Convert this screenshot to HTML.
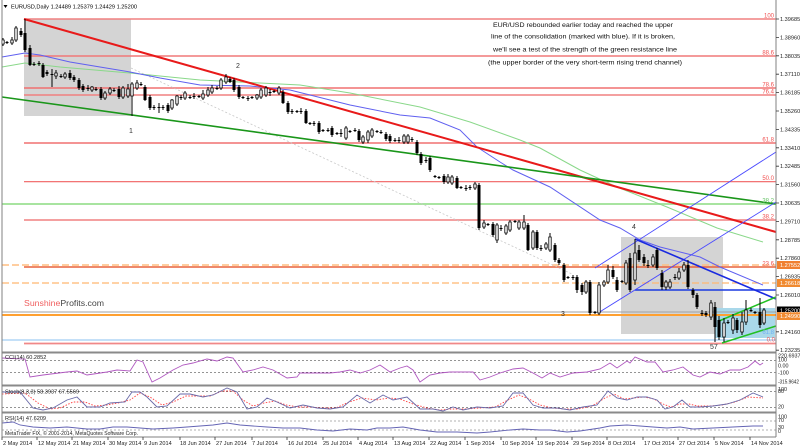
<!DOCTYPE html>
<html><head><meta charset="utf-8"><style>
html,body{margin:0;padding:0;background:#fff;}
svg{display:block;font-family:"Liberation Sans",Arial,sans-serif;}
</style></head><body>
<svg width="800" height="447" viewBox="0 0 800 447" xmlns="http://www.w3.org/2000/svg">
<rect width="800" height="447" fill="#fff"/>
<!-- boxes -->
<rect x="24" y="19" width="107" height="97" fill="#d4d4d4"/>
<rect x="621" y="237" width="102" height="97" fill="#d4d4d4"/>
<rect x="715" y="308" width="60" height="30" fill="#a9d8ea"/>
<!-- horizontal lines -->
<g fill="none">
<line x1="24" y1="19" x2="776" y2="19" stroke="#f08080" stroke-width="1.6"/>
<line x1="24" y1="56" x2="776" y2="56" stroke="#f07878" stroke-width="1.6"/>
<line x1="24" y1="88" x2="776" y2="88" stroke="#f07070" stroke-width="1.6"/>
<line x1="24" y1="95" x2="776" y2="95" stroke="#f08080" stroke-width="1.6"/>
<line x1="24" y1="143" x2="776" y2="143" stroke="#f07070" stroke-width="1.4"/>
<line x1="24" y1="181.7" x2="776" y2="181.7" stroke="#f06060" stroke-width="1.2"/>
<line x1="2" y1="204" x2="776" y2="204" stroke="#a8e4a0" stroke-width="2"/>
<line x1="24" y1="220" x2="776" y2="220" stroke="#f4a0a0" stroke-width="2"/>
<line x1="2" y1="265" x2="776" y2="265" stroke="#ffbe80" stroke-width="1.5" stroke-dasharray="7 3"/>
<line x1="24" y1="267" x2="776" y2="267" stroke="#e8603a" stroke-width="1.5"/>
<line x1="2" y1="283" x2="776" y2="283" stroke="#ffb870" stroke-width="1.2" stroke-dasharray="7 3"/>
<line x1="2" y1="312" x2="776" y2="312" stroke="#a0a0a0" stroke-width="1"/>
<line x1="2" y1="315" x2="776" y2="315" stroke="#ffa030" stroke-width="2"/>
<line x1="2" y1="340" x2="776" y2="340" stroke="#88c0f0" stroke-width="1"/>
<line x1="24" y1="343.5" x2="776" y2="343.5" stroke="#f08888" stroke-width="1.8"/>
<line x1="635" y1="290" x2="776" y2="290" stroke="#1a3ae0" stroke-width="1.5"/>
</g>
<!-- dotted projection -->
<line x1="131" y1="68" x2="572" y2="274" stroke="#c8c8c8" stroke-width="0.8" stroke-dasharray="2 2"/>
<!-- MAs -->
<polyline fill="none" stroke="#8ad88a" stroke-width="1" points="2,67 25,63 60,67 130,73 200,80 260,83 300,85 350,93 420,107 470,122 520,140 540,148 580,170 617,187 667,207 717,228 763,242"/>
<polyline fill="none" stroke="#6060f0" stroke-width="1" points="2,57 25,53 40,55 70,62 100,67 130,72 160,78 200,85 250,86 290,90 350,105 400,115 430,118 460,130 477,147 500,162 513,170 550,187 600,220 620,228 640,240 660,247 700,257 720,267 763,285"/>
<!-- trend lines -->
<line x1="24" y1="19" x2="776" y2="232" stroke="#e81a1a" stroke-width="2"/>
<line x1="2" y1="97" x2="776" y2="204" stroke="#1a961a" stroke-width="1.6"/>
<line x1="595" y1="268" x2="776" y2="152" stroke="#4a4aff" stroke-width="0.9"/>
<line x1="598" y1="313" x2="776" y2="202" stroke="#4a4aff" stroke-width="0.9"/>
<line x1="635" y1="239" x2="776" y2="299" stroke="#1a2ae0" stroke-width="1.6"/>
<line x1="719" y1="321" x2="776" y2="297" stroke="#22c022" stroke-width="1.5"/>
<line x1="722" y1="343" x2="776" y2="326" stroke="#22c022" stroke-width="1.5"/>
<!-- candles -->
<path fill="none" stroke="#000" stroke-width="1" d="M3 38V46M7 41V44M12 37V45M16 26V42M21 28V37M25 19V52M30 45V66M34 62V66M39 61V66M43 63V78M47 70V76M52 69V87M56 70V79M61 74V78M65 72V79M70 70V80M74 75V82M79 78V90M83 84V92M88 85V91M92 86V92M96 87V91M101 87V100M105 91V100M110 87V95M114 88V92M119 86V99M123 86V99M128 84V98M132 82V116M137 80V90M141 82V86M145 85V101M150 95V110M154 105V110M159 103V113M163 105V110M168 103V113M172 99V110M177 95V106M181 95V100M185 91V100M190 95V99M194 93V99M199 95V98M203 90V100M208 87V97M212 85V94M217 86V90M221 78V90M226 74V84M230 77V83M234 78V92M239 85V99M243 96V99M248 96V101M252 96V99M257 94V100M261 88V99M266 86V97M270 89V96M274 90V93M279 86V95M283 90V104M288 101V114M292 109V114M297 110V113M301 108V114M306 109V124M310 122V125M314 121V126M319 121V134M323 129V132M328 128V132M332 126V137M337 132V135M341 129V137M346 126V140M350 130V133M355 128V132M359 129V142M363 135V144M368 130V143M372 128V138M377 130V133M381 130V134M386 132V141M390 134V143M395 138V142M399 137V143M404 134V144M408 134V144M412 137V142M417 140V155M421 152V165M426 157V163M430 156V172M435 175V178M439 176V179M444 174V184M448 174V184M452 175V185M457 176V189M461 186V189M466 185V191M470 185V190M475 182V190M479 183V230M484 220V229M488 223V226M493 222V237M497 223V243M501 225V231M506 224V235M510 220V232M515 220V223M519 220V230M524 215V230M528 223V251M533 230V250M537 230V250M541 245V251M546 242V250M550 233V252M555 243V262M559 258V265M564 263V282M568 276V279M573 275V280M577 275V293M582 283V295M586 280V294M590 280V315M595 311V314M599 282V315M604 280V287M608 265V284M613 266V279M617 277V292M622 280V283M626 260V285M630 253V292M635 239V285M639 245V262M644 254V266M648 260V268M653 254V267M657 248V270M662 270V290M666 280V290M670 279V289M675 274V280M679 268V280M684 262V272M688 260V289M693 288V298M697 293V309M702 310V316M706 311V317M711 300V320M715 302V342M719 316V340M724 318V342M728 320V324M733 314V334M737 318V333M742 312V335M746 300V325M751 308V312M755 311V314M760 298V328M764 308V325"/>
<path fill="#000" d="M5.5 42h3V43h-3ZM19.5 31h3V35h-3ZM23.5 33h3V50h-3ZM28.5 48h3V65h-3ZM32.5 64h3V65h-3ZM37.5 63h3V64h-3ZM41.5 65h3V77h-3ZM45.5 72h3V74h-3ZM50.5 74h3V75h-3ZM59.5 76h3V77h-3ZM68.5 73h3V78h-3ZM72.5 77h3V80h-3ZM77.5 80h3V88h-3ZM81.5 86h3V90h-3ZM86.5 88h3V89h-3ZM94.5 89h3V90h-3ZM99.5 89h3V98h-3ZM112.5 90h3V91h-3ZM117.5 89h3V97h-3ZM139.5 84h3V85h-3ZM143.5 87h3V100h-3ZM148.5 97h3V108h-3ZM152.5 107h3V108h-3ZM157.5 107h3V108h-3ZM161.5 107h3V108h-3ZM166.5 105h3V111h-3ZM179.5 97h3V98h-3ZM188.5 97h3V98h-3ZM192.5 96h3V97h-3ZM197.5 96h3V97h-3ZM215.5 88h3V89h-3ZM228.5 79h3V82h-3ZM232.5 80h3V90h-3ZM237.5 87h3V97h-3ZM241.5 97h3V98h-3ZM246.5 98h3V99h-3ZM250.5 97h3V98h-3ZM268.5 92h3V93h-3ZM272.5 91h3V92h-3ZM281.5 92h3V103h-3ZM286.5 103h3V112h-3ZM290.5 111h3V112h-3ZM295.5 111h3V112h-3ZM299.5 111h3V112h-3ZM304.5 111h3V123h-3ZM308.5 123h3V124h-3ZM312.5 123h3V124h-3ZM317.5 123h3V132h-3ZM321.5 130h3V131h-3ZM326.5 130h3V131h-3ZM330.5 128h3V135h-3ZM335.5 133h3V134h-3ZM339.5 133h3V134h-3ZM348.5 131h3V132h-3ZM353.5 130h3V131h-3ZM357.5 131h3V140h-3ZM375.5 131h3V132h-3ZM379.5 132h3V133h-3ZM384.5 134h3V139h-3ZM388.5 136h3V141h-3ZM393.5 140h3V141h-3ZM397.5 140h3V141h-3ZM410.5 139h3V140h-3ZM415.5 142h3V153h-3ZM419.5 154h3V163h-3ZM424.5 160h3V161h-3ZM428.5 158h3V170h-3ZM433.5 176h3V177h-3ZM437.5 177h3V178h-3ZM442.5 176h3V182h-3ZM455.5 178h3V188h-3ZM459.5 187h3V188h-3ZM464.5 188h3V189h-3ZM468.5 187h3V188h-3ZM477.5 185h3V228h-3ZM486.5 224h3V225h-3ZM491.5 224h3V235h-3ZM499.5 228h3V229h-3ZM513.5 221h3V222h-3ZM526.5 225h3V250h-3ZM535.5 232h3V248h-3ZM539.5 248h3V249h-3ZM553.5 245h3V260h-3ZM557.5 260h3V263h-3ZM562.5 265h3V280h-3ZM566.5 277h3V278h-3ZM571.5 277h3V278h-3ZM575.5 277h3V290h-3ZM580.5 285h3V292h-3ZM588.5 282h3V313h-3ZM593.5 312h3V313h-3ZM611.5 270h3V277h-3ZM615.5 280h3V290h-3ZM620.5 281h3V282h-3ZM628.5 258h3V290h-3ZM637.5 250h3V260h-3ZM642.5 257h3V263h-3ZM646.5 265h3V266h-3ZM655.5 250h3V268h-3ZM660.5 273h3V287h-3ZM673.5 277h3V278h-3ZM686.5 265h3V287h-3ZM691.5 290h3V295h-3ZM695.5 295h3V307h-3ZM700.5 313h3V314h-3ZM704.5 313h3V315h-3ZM713.5 307h3V327h-3ZM717.5 320h3V337h-3ZM726.5 322h3V323h-3ZM735.5 320h3V330h-3ZM749.5 310h3V311h-3ZM753.5 312h3V313h-3ZM758.5 312h3V325h-3Z"/>
<path fill="#fff" stroke="#000" stroke-width="0.8" d="M1.8 40h2.4V44h-2.4ZM10.8 40h2.4V43h-2.4ZM14.8 28h2.4V40h-2.4ZM54.8 73h2.4V76h-2.4ZM63.8 74h2.4V77h-2.4ZM90.8 87h2.4V90h-2.4ZM103.8 93h2.4V98h-2.4ZM108.8 89h2.4V93h-2.4ZM121.8 88h2.4V97h-2.4ZM126.8 89h2.4V96h-2.4ZM130.8 84h2.4V96h-2.4ZM135.8 83h2.4V88h-2.4ZM170.8 100h2.4V108h-2.4ZM175.8 96h2.4V104h-2.4ZM183.8 93h2.4V98h-2.4ZM201.8 94h2.4V98h-2.4ZM206.8 90h2.4V95h-2.4ZM210.8 88h2.4V92h-2.4ZM219.8 80h2.4V88h-2.4ZM224.8 77h2.4V82h-2.4ZM255.8 95h2.4V98h-2.4ZM259.8 90h2.4V97h-2.4ZM264.8 88h2.4V95h-2.4ZM277.8 88h2.4V93h-2.4ZM344.8 128h2.4V138h-2.4ZM361.8 137h2.4V142h-2.4ZM366.8 132h2.4V140h-2.4ZM370.8 130h2.4V136h-2.4ZM402.8 136h2.4V142h-2.4ZM406.8 136h2.4V142h-2.4ZM446.8 177h2.4V182h-2.4ZM450.8 177h2.4V183h-2.4ZM473.8 184h2.4V188h-2.4ZM482.8 223h2.4V227h-2.4ZM495.8 225h2.4V240h-2.4ZM504.8 226h2.4V233h-2.4ZM508.8 222h2.4V230h-2.4ZM517.8 222h2.4V228h-2.4ZM522.8 222h2.4V228h-2.4ZM531.8 232h2.4V248h-2.4ZM544.8 244h2.4V248h-2.4ZM548.8 237h2.4V250h-2.4ZM584.8 282h2.4V292h-2.4ZM597.8 285h2.4V313h-2.4ZM602.8 282h2.4V285h-2.4ZM606.8 270h2.4V282h-2.4ZM624.8 263h2.4V283h-2.4ZM633.8 253h2.4V280h-2.4ZM651.8 257h2.4V265h-2.4ZM664.8 282h2.4V287h-2.4ZM668.8 282h2.4V287h-2.4ZM677.8 272h2.4V278h-2.4ZM682.8 265h2.4V270h-2.4ZM709.8 303h2.4V317h-2.4ZM722.8 323h2.4V337h-2.4ZM731.8 318h2.4V330h-2.4ZM740.8 322h2.4V332h-2.4ZM744.8 310h2.4V322h-2.4ZM762.8 310h2.4V323h-2.4Z"/>
<!-- fib labels -->
<g font-size="6" fill="#f05050" text-anchor="end">
<text x="774" y="17.5">100</text>
<text x="774" y="54.5">88.6</text>
<text x="774" y="86.5">78.6</text>
<text x="774" y="93.5">76.4</text>
<text x="774" y="141.5">61.8</text>
<text x="774" y="180">50.0</text>
<text x="774" y="202.5" fill="#60c060">38.2</text>
<text x="774" y="218.5">38.2</text>
<text x="774" y="265.5">23.6</text>
<text x="774" y="334" fill="#70b0f0">61.8</text>
<text x="775" y="341.5">0.0</text>
</g>
<!-- annotations -->
<g font-size="6.8" fill="#111">
<text x="493" y="27" textLength="180" lengthAdjust="spacingAndGlyphs">EUR/USD rebounded earlier today and reached the upper</text>
<text x="491" y="38.7" textLength="184" lengthAdjust="spacingAndGlyphs">line of the consolidation (marked with blue). If it is broken,</text>
<text x="493" y="51.5" textLength="184" lengthAdjust="spacingAndGlyphs">we'll see a test of the strength of the green resistance line</text>
<text x="488" y="64.5" textLength="194" lengthAdjust="spacingAndGlyphs">(the upper border of the very short-term rising trend channel)</text>
</g>
<g font-size="7" fill="#333">
<text x="129" y="133">1</text>
<text x="236" y="68">2</text>
<text x="561" y="316">3</text>
<text x="632" y="229">4</text>
<text x="710" y="349">57</text>
</g>
<text x="24" y="306" font-size="8" textLength="80" lengthAdjust="spacingAndGlyphs"><tspan fill="#f06060">Sunshine</tspan><tspan fill="#444">Profits.com</tspan></text>
<!-- title -->
<path d="M3.5 5h4l-2 3z" fill="#000"/>
<text x="11" y="8.5" font-size="5.8" fill="#000" textLength="126" lengthAdjust="spacingAndGlyphs">EURUSD,Daily  1.24489 1.25379 1.24429 1.25200</text>
<!-- panels -->
<rect x="2" y="351.5" width="774" height="2" fill="#8a8a8a"/>
<rect x="2" y="384.5" width="774" height="2" fill="#8a8a8a"/>
<rect x="2" y="411.5" width="774" height="2" fill="#8a8a8a"/>
<g stroke="#555" stroke-width="0.7" stroke-dasharray="2 2">
<line x1="2" y1="360.7" x2="776" y2="360.7"/>
<line x1="2" y1="372.3" x2="776" y2="372.3"/>
<line x1="2" y1="391.7" x2="776" y2="391.7"/>
<line x1="2" y1="407.3" x2="776" y2="407.3"/>
<line x1="2" y1="421" x2="776" y2="421" stroke="#999"/>
<line x1="2" y1="430" x2="776" y2="430" stroke="#999"/>
</g>
<polyline fill="none" stroke="#b058c0" stroke-width="0.9" points="2,358 25,359 30,377 43,375 67,372 77,371 87,375 107,372 117,370 130,371 137,360 143,362 152,382 160,378 173,370 183,365 193,363 207,359 217,361 227,357 233,358 243,372 253,370 263,367 273,370 287,378 297,377 300,373 317,373 330,373 340,372 350,370 360,373 370,370 380,365 390,372 400,368 407,366 413,370 420,382 430,375 440,373 450,372 463,372 473,372 480,380 490,377 500,373 513,369 523,368 533,373 542,378 550,373 560,377 573,373 587,372 600,369 610,363 617,368 627,361 630,363 635,357 647,362 655,362 663,372 673,370 683,367 693,375 700,377 710,372 720,374 730,370 740,370 748,367 755,361 760,365 763,363"/>
<polyline fill="none" stroke="#ff4040" stroke-width="0.9" stroke-dasharray="1.5 1.5" points="2,394 25,393 38,403 50,409 60,408 73,402 85,402 95,406 107,405 118,403 130,400 140,393 150,397 162,405 173,402 186,396 198,396 210,396 222,391 233,391 243,400 253,406 264,403 275,401 286,405 298,407 310,407 323,408 336,408 349,402 362,398 376,400 389,398 400,399 413,404 427,408 440,410 452,409 466,409 480,408 495,407 508,400 519,395 529,399 540,405 552,408 565,409 578,409 592,406 605,398 614,394 624,399 634,398 644,397 654,399 663,404 671,407 680,404 689,404 698,406 710,406 722,405 735,402 748,397 763,398"/>
<polyline fill="none" stroke="#6a6aa8" stroke-width="0.9" points="2,392 20,392 33,408 43,410 53,408 67,400 77,397 87,407 100,407 110,403 125,402 132,392 140,392 147,397 157,407 167,406 180,394 190,394 203,397 213,395 227,388 237,392 247,409 257,407 267,398 277,402 290,408 303,405 317,408 330,409 343,407 357,395 370,403 383,395 393,400 407,397 420,409 433,409 443,411 453,407 463,410 477,407 490,408 503,406 513,393 523,393 533,405 543,408 557,408 570,410 583,407 597,405 608,391 617,398 627,400 637,397 647,397 657,400 665,409 673,407 682,400 690,407 700,407 713,406 727,404 740,400 753,393 763,397"/>
<polyline fill="none" stroke="#6464b4" stroke-width="0.9" points="2,423 13,422 20,425 33,427 50,428 67,427 87,429 100,429 113,427 127,427 140,428 153,429 173,428 187,427 200,426 213,425 227,423 240,425 253,426 267,427 283,428 300,428 317,430 333,431 350,429 367,430 377,428 390,428 403,427 420,430 437,432 457,432 477,433 490,432 510,430 523,429 540,430 550,430 567,432 580,431 600,428 610,426 627,425 640,426 653,427 667,428 680,427 693,429 713,428 733,427 753,426 763,426"/>
<g font-size="5.6" fill="#222">
<text x="5" y="359">CCI(14) 60.2852</text>
<text x="5" y="393.5">Stoch(8,3,3) 58.3937 67.5569</text>
<text x="5" y="420">RSI(14) 47.6209</text>
<text x="5" y="435" textLength="133" lengthAdjust="spacingAndGlyphs">MetaTrader FIX, © 2001-2014, MetaQuotes Software Corp.</text>
</g>
<!-- frame -->
<line x1="2" y1="0" x2="2" y2="437" stroke="#808080" stroke-width="1"/>
<line x1="776" y1="0" x2="776" y2="437" stroke="#808080" stroke-width="1"/>
<line x1="2" y1="437" x2="776" y2="437" stroke="#808080" stroke-width="1"/>
<!-- right axis ticks -->
<path stroke="#333" stroke-width="0.8" d="M776 19h3M776 37.4h3M776 55.8h3M776 74.2h3M776 92.6h3M776 111h3M776 129.4h3M776 147.8h3M776 166.2h3M776 184.6h3M776 203h3M776 221.4h3M776 239.8h3M776 258.2h3M776 276.6h3M776 295h3M776 331.8h3M776 350.2h3"/>
<g font-size="5.6" fill="#222">
<text x="780" y="21">1.39685</text>
<text x="780" y="39.4">1.38960</text>
<text x="780" y="57.8">1.38035</text>
<text x="780" y="76.2">1.37110</text>
<text x="780" y="94.6">1.36185</text>
<text x="780" y="113">1.35260</text>
<text x="780" y="131.4">1.34335</text>
<text x="780" y="149.8">1.33410</text>
<text x="780" y="168.2">1.32485</text>
<text x="780" y="186.6">1.31560</text>
<text x="780" y="205">1.30635</text>
<text x="780" y="223.4">1.29710</text>
<text x="780" y="241.8">1.28785</text>
<text x="780" y="260.2">1.27860</text>
<text x="780" y="278.6">1.26935</text>
<text x="780" y="297">1.26010</text>
<text x="780" y="333.8">1.24160</text>
<text x="780" y="352">1.23235</text>
</g>
<rect x="777" y="261" width="23" height="8" fill="#f08030"/>
<rect x="777" y="279" width="23" height="8" fill="#f08a30"/>
<rect x="777" y="306.5" width="23" height="8" fill="#000"/>
<rect x="777" y="312" width="23" height="8" fill="#f08a30"/>
<g font-size="5.6" fill="#fff">
<text x="780" y="267.2">1.27552</text>
<text x="780" y="285.2">1.26618</text>
<text x="780" y="312.7">1.25200</text>
<text x="780" y="318.2">1.24990</text>
</g>
<!-- panel axis labels -->
<g font-size="5.4" fill="#222">
<text x="778" y="357.5">220.6937</text>
<text x="778" y="361.5">100</text>
<text x="778" y="367.7">0.00</text>
<text x="778" y="374.3">-100</text>
<text x="778" y="383.5" textLength="21" lengthAdjust="spacingAndGlyphs">-315.9642</text>
<text x="778" y="391">100</text>
<text x="778" y="393">80</text>
<text x="778" y="408.7">20</text>
<text x="778" y="418.7">100</text>
<text x="778" y="422">70</text>
<text x="778" y="429">30</text>
<text x="778" y="433">0</text>
</g>
<!-- date axis -->
<path stroke="#333" stroke-width="0.8" d="M2 437v3M37 437v3M72 437v3M108 437v3M143 437v3M180 437v3M215 437v3M252 437v3M287 437v3M323 437v3M358 437v3M393 437v3M429 437v3M465 437v3M501 437v3M536 437v3M572 437v3M607 437v3M643 437v3M678 437v3M714 437v3M750 437v3"/>
<g font-size="5.6" fill="#222">
<text x="3" y="445">2 May 2014</text>
<text x="38" y="445">12 May 2014</text>
<text x="73" y="445">21 May 2014</text>
<text x="109" y="445">30 May 2014</text>
<text x="144" y="445">9 Jun 2014</text>
<text x="180" y="445">18 Jun 2014</text>
<text x="216" y="445">27 Jun 2014</text>
<text x="252" y="445">7 Jul 2014</text>
<text x="288" y="445">16 Jul 2014</text>
<text x="323" y="445">25 Jul 2014</text>
<text x="359" y="445">4 Aug 2014</text>
<text x="394" y="445">13 Aug 2014</text>
<text x="430" y="445">22 Aug 2014</text>
<text x="466" y="445">1 Sep 2014</text>
<text x="502" y="445">10 Sep 2014</text>
<text x="537" y="445">19 Sep 2014</text>
<text x="573" y="445">29 Sep 2014</text>
<text x="608" y="445">8 Oct 2014</text>
<text x="644" y="445">17 Oct 2014</text>
<text x="679" y="445">27 Oct 2014</text>
<text x="715" y="445">5 Nov 2014</text>
<text x="751" y="445">14 Nov 2014</text>
</g>
</svg>
</body></html>
